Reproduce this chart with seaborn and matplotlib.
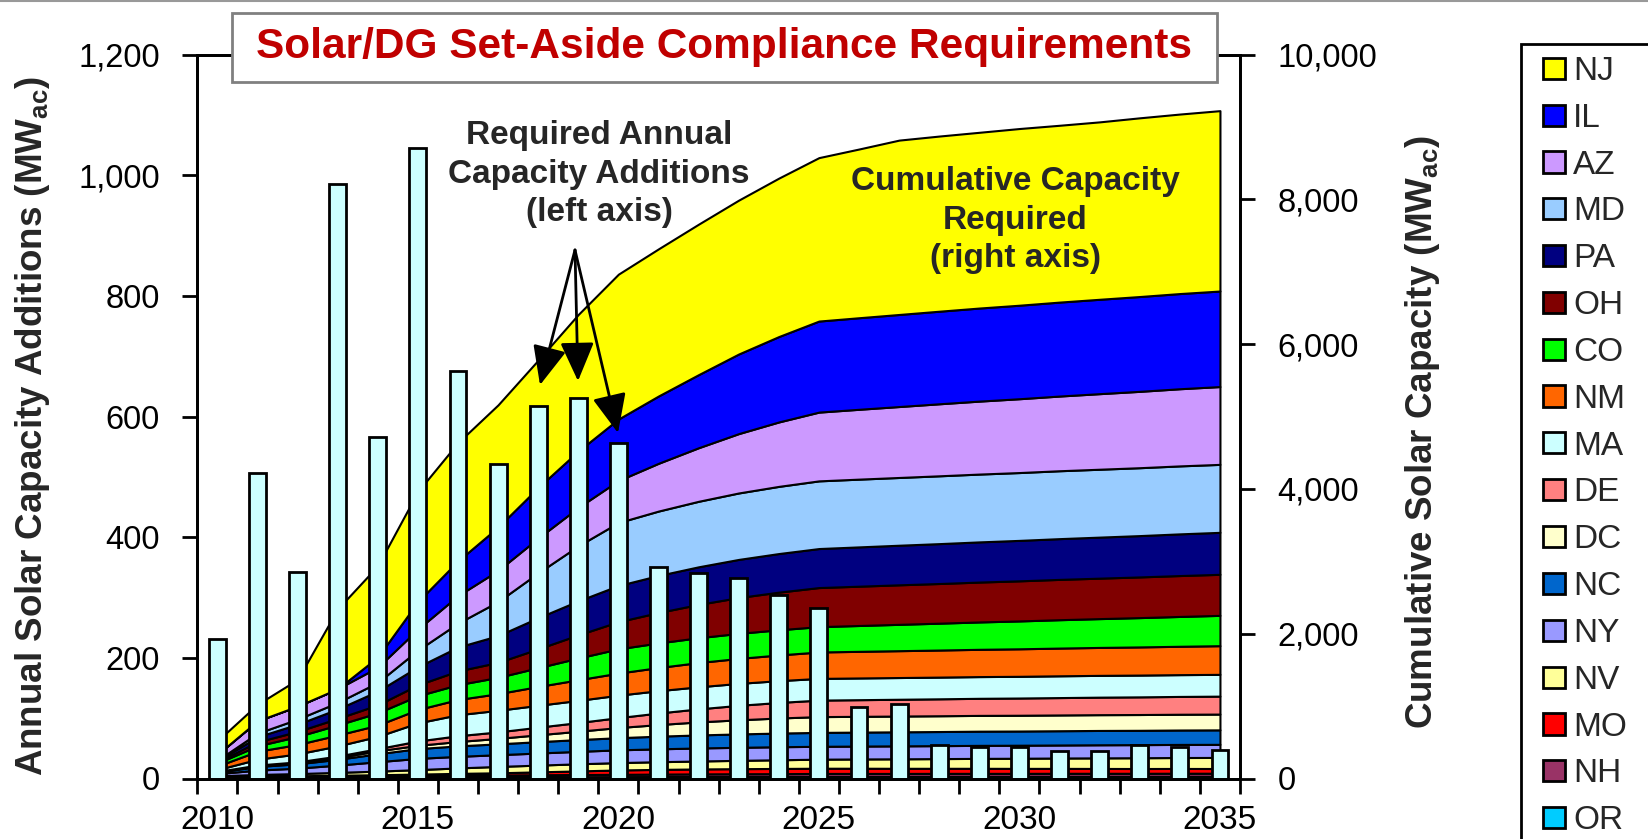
import matplotlib
matplotlib.use("Agg")
import matplotlib.pyplot as plt
from matplotlib.patches import Patch, Rectangle
from matplotlib.lines import Line2D
import numpy as np
import pandas as pd
import seaborn as sns

# ---- data ----
years = list(range(2010, 2036))

# required annual capacity additions, MWac (left axis, bars)
annual_additions = [232, 506, 343, 985, 567, 1046, 675, 522, 618, 631, 556, 350, 341,
                    332, 304, 283, 119, 123, 56, 52, 52, 46, 46, 56, 52, 47]

# cumulative capacity required by state, MWac (right axis, stacked areas)
nj = [187, 229, 368, 1103, 1263, 1523, 1635, 1689, 1760, 1888, 2002, 2033, 2079,
      2126, 2189, 2258, 2331, 2409, 2420, 2428, 2441, 2443, 2451, 2469, 2480, 2492]
il = [0, 0, 0, 0, 140, 380, 480, 600, 700, 780, 850, 930, 1010,
      1100, 1180, 1258, 1265, 1272, 1279, 1286, 1292, 1298, 1304, 1310, 1315, 1320]
az = [80, 170, 180, 190, 210, 290, 380, 430, 480, 530, 580, 660, 740,
      820, 890, 950, 965, 980, 995, 1008, 1020, 1032, 1044, 1055, 1066, 1075]
md = [10, 50, 70, 90, 120, 230, 330, 470, 620, 760, 870, 890, 905,
      918, 928, 935, 936, 936, 937, 937, 937, 938, 938, 938, 939, 939]
pa = [15, 70, 100, 130, 190, 250, 330, 370, 430, 470, 500, 512, 520,
      527, 533, 539, 543, 547, 551, 555, 559, 563, 567, 571, 576, 580]
oh = [15, 55, 70, 90, 110, 150, 190, 207, 260, 320, 375, 420, 460,
      495, 520, 540, 543, 546, 548, 551, 554, 557, 559, 562, 565, 567]
co = [40, 75, 110, 140, 170, 190, 205, 225, 260, 300, 335, 340, 343,
      346, 348, 350, 357, 364, 371, 378, 385, 392, 398, 405, 412, 419]
nm = [50, 110, 130, 150, 155, 185, 210, 230, 260, 285, 305, 320, 335,
      345, 355, 365, 368, 371, 374, 377, 380, 383, 386, 389, 392, 396]
ma = [25, 80, 110, 140, 170, 250, 290, 298, 302, 306, 310, 308, 305,
      303, 301, 300, 300, 300, 300, 300, 300, 301, 301, 301, 301, 301]
de = [5, 10, 12, 20, 30, 60, 80, 90, 105, 120, 137, 160, 180,
      200, 215, 228, 230, 232, 234, 236, 238, 240, 242, 244, 246, 248]
dc = [5, 10, 15, 25, 40, 45, 60, 75, 95, 115, 140, 160, 180,
      195, 208, 218, 218, 218, 218, 218, 218, 218, 218, 218, 218, 218]
nc = [20, 50, 60, 80, 110, 135, 145, 150, 157, 163, 168, 175, 180,
      185, 189, 192, 193, 194, 195, 196, 196, 197, 198, 198, 199, 200]
ny = [30, 60, 75, 100, 130, 155, 160, 162, 167, 172, 176, 178, 180,
      180, 180, 178, 178, 179, 179, 180, 180, 180, 181, 181, 181, 181]
nv = [15, 25, 30, 40, 50, 62, 75, 88, 93, 98, 102, 106, 110,
      115, 120, 125, 128, 131, 134, 137, 140, 143, 146, 149, 151, 153]
mo = [2, 4, 6, 8, 12, 18, 25, 30, 40, 50, 60, 65, 68,
      70, 72, 72, 72, 71, 70, 70, 69, 68, 67, 66, 66, 65]
nh = [8, 12, 15, 18, 20, 22, 24, 26, 28, 30, 32, 34, 36,
      37, 38, 40, 40, 40, 41, 41, 41, 42, 42, 42, 43, 43]
or_ = [12, 15, 17, 19, 20, 21, 22, 23, 24, 25, 26, 27, 28,
       29, 29, 30, 30, 30, 30, 30, 30, 30, 30, 30, 30, 30]

# legend order (top of stack first)
states = ["NJ", "IL", "AZ", "MD", "PA", "OH", "CO", "NM", "MA",
          "DE", "DC", "NC", "NY", "NV", "MO", "NH", "OR"]
state_values = [nj, il, az, md, pa, oh, co, nm, ma, de, dc, nc, ny, nv, mo, nh, or_]
state_colors = ["#FFFF00", "#0000FF", "#CC99FF", "#99CCFF", "#000080", "#800000",
                "#00FF00", "#FF6600", "#CCFFFF", "#FF8080", "#FFFFCC", "#0066CC",
                "#9999FF", "#FFFF99", "#FF0000", "#993366", "#00CCFF"]

# ---- figure ----
sns.set_style("ticks")
plt.rcParams["font.family"] = ["Liberation Sans", "DejaVu Sans"]

W, H = 1648, 839
fig = plt.figure(figsize=(W / 100, H / 100), dpi=100)
ax = fig.add_axes([197.3 / W, 1 - 778.5 / H, (1240 - 197.3) / W, (778.5 - 54.7) / H])
ax2 = ax.twinx()

# stacked cumulative areas (right scale) on the primary axes, bottom state first
x = np.arange(len(years))
ax.stackplot(x, state_values[::-1], colors=state_colors[::-1],
             edgecolor="black", linewidth=1.5)
ax.set_ylim(0, 10000)

# annual additions bars (left scale) drawn on the twin so they sit on top
df = pd.DataFrame({"year": [str(y) for y in years], "mw": annual_additions})
sns.barplot(data=df, x="year", y="mw", ax=ax2, color="#CCFFFF", saturation=1,
            width=0.42, edgecolor="black", linewidth=2, errorbar=None)
ax2.set_ylim(0, 1200)
ax2.set_xlabel("")
ax2.set_ylabel("")
ax.set_xlim(-0.5, len(years) - 0.5)

# swap sides: bars scale on the left, cumulative scale on the right
ax.yaxis.tick_right()
ax2.yaxis.tick_left()

ax2.set_yticks(range(0, 1201, 200))
ax2.set_yticklabels([f"{v:,}" for v in range(0, 1201, 200)])
ax.set_yticks(range(0, 10001, 2000))
ax.set_yticklabels([f"{v:,}" for v in range(0, 10001, 2000)])
ax2.tick_params(axis="y", left=True, right=False, direction="out", length=11, width=2,
                labelsize=23.5, pad=16, colors="black")
ax.tick_params(axis="y", right=True, left=False, direction="out", length=11, width=2,
               labelsize=23.5, pad=16, colors="black")

# category-boundary tick marks, labels every 5 years
ax.set_xticks(np.arange(-0.5, len(years), 1))
ax.set_xticklabels([])
ax.set_xticks(np.arange(0, len(years), 5), minor=True)
ax.set_xticklabels([str(y) for y in years[::5]], minor=True)
ax.tick_params(axis="x", which="major", bottom=True, direction="out", length=11, width=2,
               colors="black")
ax.tick_params(axis="x", which="minor", bottom=True, length=0, pad=19, labelsize=24,
               labelcolor="black")

for a in (ax, ax2):
    for s in a.spines.values():
        s.set_visible(True)
        s.set_color("black")
        s.set_linewidth(2)

# axis titles
fig.text(33 / W, 1 - 426 / H, "Annual Solar Capacity Additions (MW$_{\\mathregular{ac}}$)",
         rotation=90, ha="center", va="center", fontsize=26.5, fontweight="bold")
fig.text(1422 / W, 1 - 432 / H, "Cumulative Solar Capacity (MW$_{\\mathregular{ac}}$)",
         rotation=90, ha="center", va="center", fontsize=26.5, fontweight="bold")

# title box
fig.patches.append(Rectangle((232 / W, 1 - 82 / H), (1217 - 232) / W, (82 - 12.6) / H,
                             transform=fig.transFigure, facecolor="white",
                             edgecolor="#808080", linewidth=2, zorder=5))
fig.text(724.5 / W, 1 - 47 / H, "Solar/DG Set-Aside Compliance Requirements",
         ha="center", va="center", fontsize=30.5, fontweight="bold", color="#C00000",
         zorder=6)
fig.add_artist(Line2D([0, 1], [1 - 1 / H, 1 - 1 / H], transform=fig.transFigure,
                      color="#999999", linewidth=1.5))

# callouts
fig.text(599 / W, 1 - 174 / H, "Required Annual\nCapacity Additions\n(left axis)",
         ha="center", va="center", fontsize=24, fontweight="bold", linespacing=1.3)
fig.text(1015 / W, 1 - 220 / H, "Cumulative Capacity\nRequired\n(right axis)",
         ha="center", va="center", fontsize=24, fontweight="bold", linespacing=1.3)
apex = (575, H - 250)
for tip in [(540, 385), (578, 381), (618, 433)]:
    ax2.annotate("", xy=(tip[0], H - tip[1]), xycoords="figure pixels",
                 xytext=apex, textcoords="figure pixels",
                 arrowprops=dict(arrowstyle="-|>,head_length=0.8,head_width=0.35",
                                 color="black", lw=2, shrinkA=0, shrinkB=0,
                                 mutation_scale=30))

# legend (runs off the right and bottom edges like the reference)
fig.patches.append(Rectangle((1521 / W, -0.2), 0.2, 1.2 - 44 / H,
                             transform=fig.transFigure, facecolor="white",
                             edgecolor="black", linewidth=2, zorder=4))
handles = [Patch(facecolor=c, edgecolor="black", linewidth=2) for c in state_colors]
fig.legend(handles, states, loc="upper left", bbox_to_anchor=(1543 / W, 1 - 56 / H),
           bbox_transform=fig.transFigure, frameon=False, fontsize=24,
           handlelength=0.66, handleheight=0.6, handletextpad=0.25,
           labelspacing=0.475, borderaxespad=0, borderpad=0)

fig.savefig("out.png", dpi=100)
